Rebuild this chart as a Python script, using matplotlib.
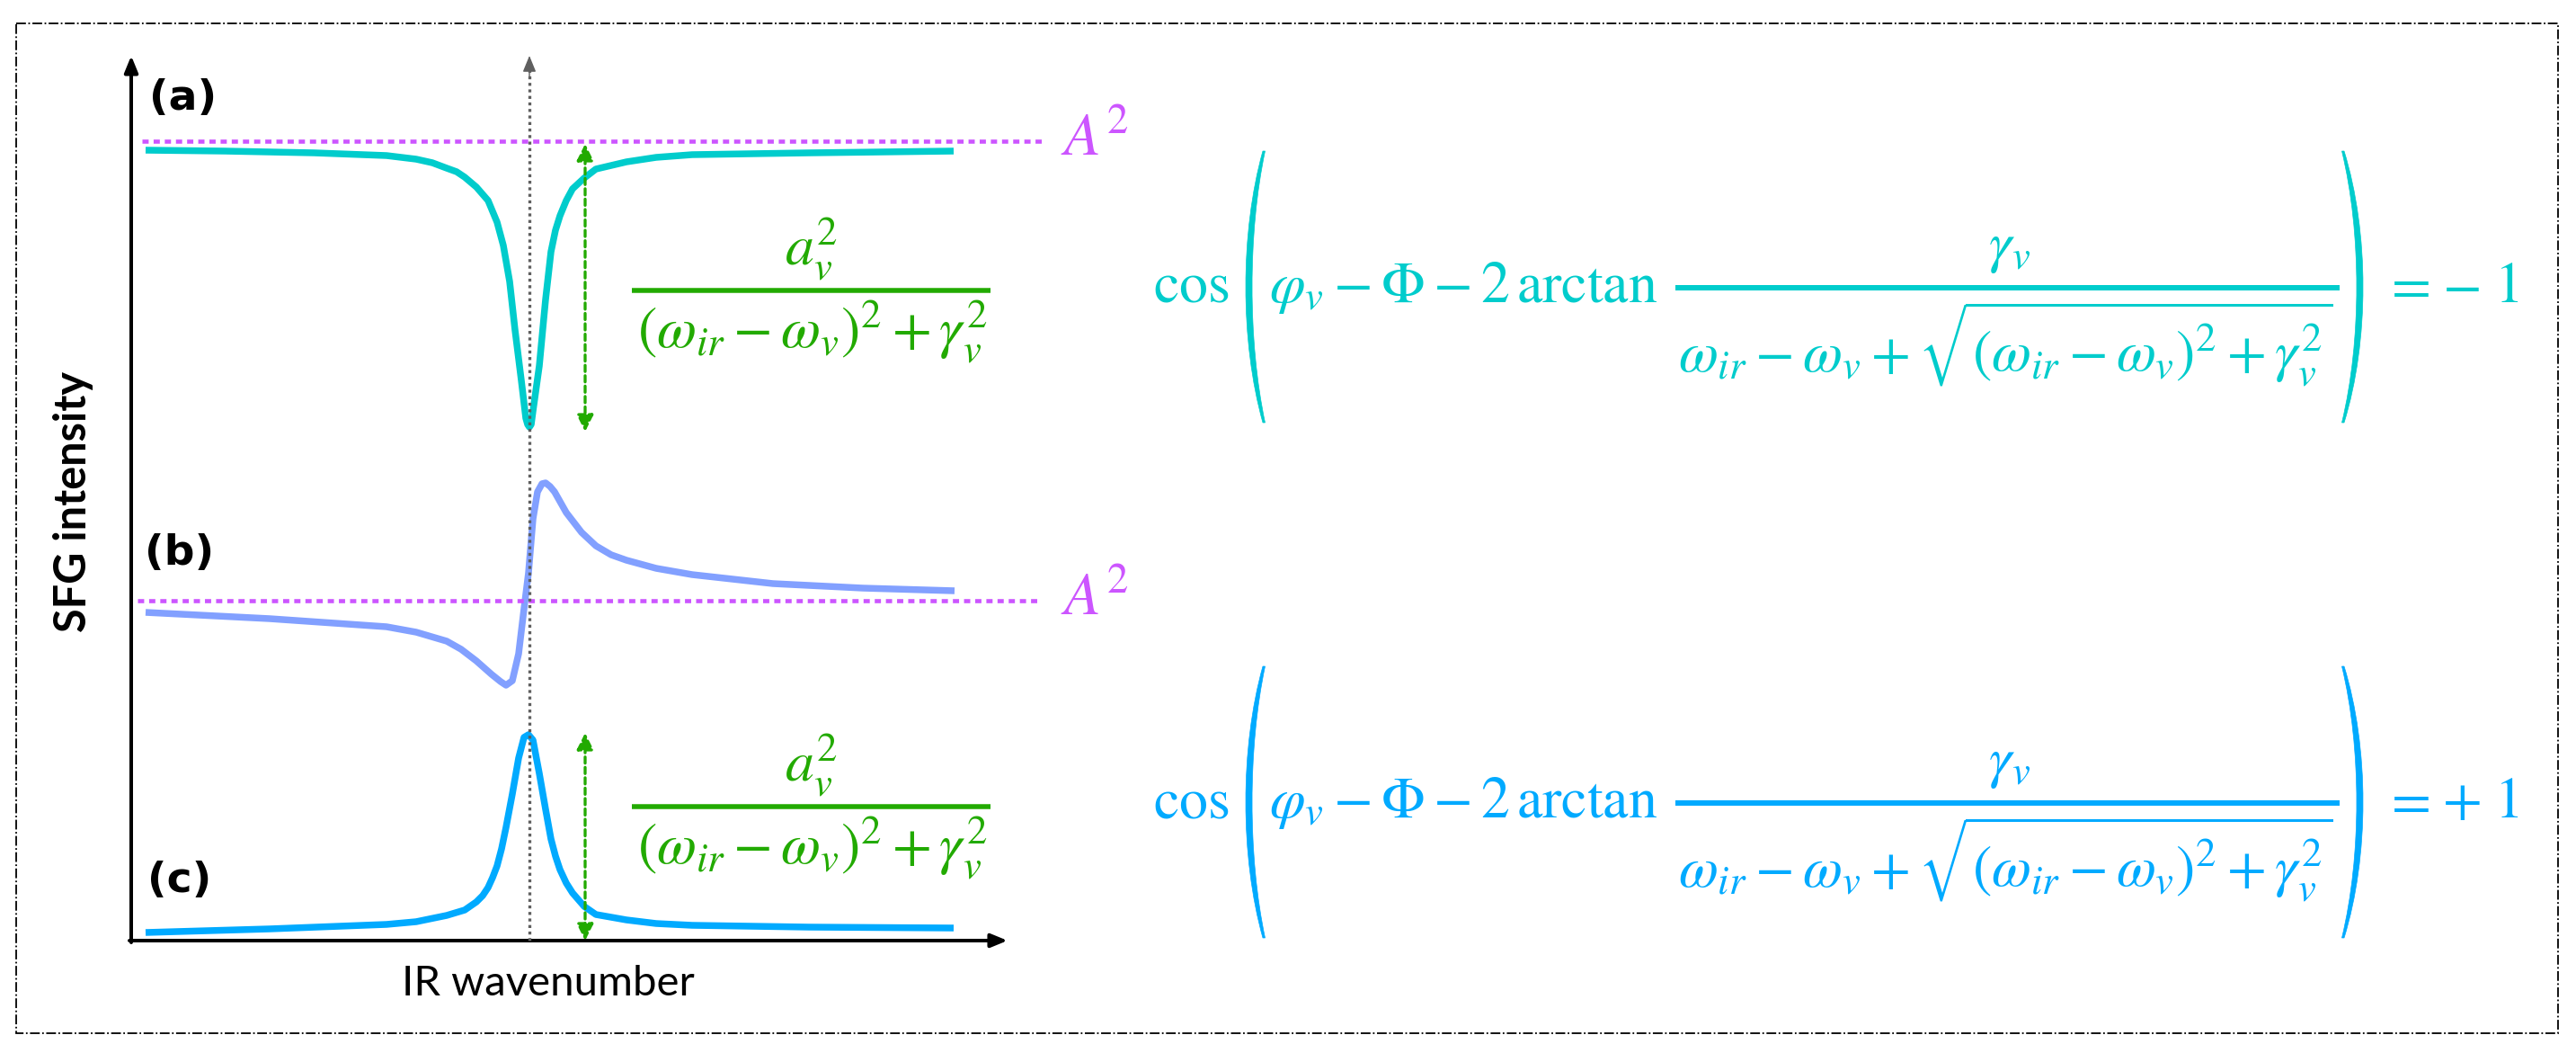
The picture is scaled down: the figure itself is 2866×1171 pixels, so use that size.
import matplotlib
matplotlib.use('Agg')
import matplotlib.pyplot as plt
from matplotlib.patches import FancyArrowPatch, Rectangle, PathPatch
from matplotlib.path import Path

plt.rcParams['mathtext.fontset'] = 'stix'

# ---------------- data (arbitrary units: IR wavenumber, SFG intensity) ----------------
x_a = [16, 104, 204, 284, 317, 335, 351, 362, 371, 384, 397, 407, 414, 421, 427, 434, 439, 441, 443,
       445, 447, 454, 461, 467, 472, 477, 484, 491, 504, 517, 551, 584, 624, 754, 915]
y_a = [879, 878, 876, 873, 869, 865, 859, 855, 849, 838, 823, 799, 773, 733, 679, 623, 581, 574, 571,
       574, 589, 639, 713, 766, 790, 806, 823, 836, 848, 858, 866, 871, 874, 876, 878]

x_b = [16, 154, 284, 317, 351, 367, 384, 401, 411, 417, 424, 431, 437, 442, 447, 452, 457,
       461, 466, 471, 484, 501, 517, 534, 551, 584, 624, 714, 814, 916]
y_b = [365, 358, 349, 343, 333, 324, 311, 296, 288, 284, 289, 319, 369, 409, 469, 499, 508,
       509, 505, 499, 476, 454, 439, 429, 423, 414, 407, 397, 392, 389]

x_c = [16, 154, 284, 317, 351, 371, 384, 391, 397, 402, 407, 412, 417, 424, 431, 437, 442, 447, 454, 461,
       467, 472, 477, 484, 491, 504, 517, 551, 584, 624, 754, 915]
y_c = [9, 13, 18, 21, 28, 34, 43, 50, 59, 70, 83, 102, 126, 163, 203, 226, 229, 223, 186, 146,
       113, 94, 79, 64, 53, 38, 29, 23, 19, 17, 15, 14]

resonance_x = 443          # omega_v
A2_level_a = 889           # non-resonant level, panel (a)
A2_level_b = 378           # non-resonant level, panel (b)
a_min = 571                # minimum of (a)
c_peak = 229               # peak of (c)
arrow_x = 505

panel_labels = ['(a)', '(b)', '(c)']
ylabel = 'SFG intensity'
xlabel = 'IR wavenumber'

green_num = r'$a_v^2$'
green_den = r'$(\omega_{ir}-\omega_v)^2+\gamma_v^2$'
eq_num = r'$\gamma_v$'
eq_den = r'$\omega_{ir}-\omega_v+\sqrt{(\omega_{ir}-\omega_v)^2+\gamma_v^2}$'
eq_signs = [r'$-$', r'$+$']

# ---------------- colours ----------------
C_A = '#00CCCC'
C_B = '#82A0FF'
C_C = '#00AAFF'
C_MAG = '#CC55FF'
C_GRN = '#22AA00'
C_GRY = '#5F5F5F'

W, H, DPI = 2866, 1171, 100
PX = 72.0 / DPI   # points per pixel

fig = plt.figure(figsize=(W / DPI, H / DPI), dpi=DPI)
ov = fig.add_axes([0, 0, 1, 1])
ov.set_xlim(0, W)
ov.set_ylim(H, 0)
ov.axis('off')

X0, X1, Y0, Y1 = 146, 1121, 1046, 62
ax = fig.add_axes([X0 / W, (H - Y0) / H, (X1 - X0) / W, (Y0 - Y1) / H])
ax.set_xlim(0, X1 - X0)
ax.set_ylim(0, Y0 - Y1)
ax.axis('off')
ax.patch.set_alpha(0)

# frame
ov.add_patch(Rectangle((18, 26), 2828, 1123, fill=False, ec='black', lw=1.3,
                       ls=(0, (6, 1.5, 1, 1.5))))

# axes arrows
for a, b in [((X0, Y0 + 2), (X0, Y1)), ((X0 - 2, Y0), (X1, Y0))]:
    ov.add_patch(FancyArrowPatch(a, b, arrowstyle='-|>,head_length=11,head_width=4.5',
                                 mutation_scale=1, lw=4 * PX, color='black',
                                 shrinkA=0, shrinkB=0))

# curves
LW = 7.5 * PX
for xs, ys, c in [(x_a, y_a, C_A), (x_b, y_b, C_B), (x_c, y_c, C_C)]:
    ax.plot(xs, ys, color=c, lw=LW, solid_joinstyle='round', solid_capstyle='butt',
            zorder=2, clip_on=False)

# A^2 levels
ax.plot([12, 1013], [A2_level_a, A2_level_a], color=C_MAG, lw=4.6 * PX,
        ls=(0, (1.5, 1.2)), zorder=3, clip_on=False)
ax.plot([7, 1009], [A2_level_b, A2_level_b], color=C_MAG, lw=4.6 * PX,
        ls=(0, (1.5, 1.2)), zorder=3, clip_on=False)
for yb in (173, 684):
    ov.text(1180, yb, r'$A^2$', color=C_MAG, fontsize=48, ha='left', va='baseline')

# resonance line
ax.plot([resonance_x, resonance_x], [0, 968], color=C_GRY, lw=3.3 * PX,
        ls=(0, (1, 1.2)), zorder=4, clip_on=False)
ax.add_patch(FancyArrowPatch((resonance_x, 960), (resonance_x, 984),
                             arrowstyle='-|>,head_length=11,head_width=4.5',
                             mutation_scale=1, lw=1, color=C_GRY,
                             shrinkA=0, shrinkB=0, zorder=4, clip_on=False))

# green double arrows
for ya, yb in [(A2_level_a - 3, a_min - 5), (c_peak + 2, 0)]:
    ax.add_patch(FancyArrowPatch((arrow_x, ya), (arrow_x, yb),
                                 arrowstyle='<|-|>,head_length=11,head_width=5.5',
                                 mutation_scale=1, lw=3.3 * PX, color=C_GRN,
                                 ls=(0, (2.1, 1.4)), shrinkA=0, shrinkB=0,
                                 zorder=4, clip_on=False))

# green fractions
for dy in (0, 574):
    ov.plot([703, 1102], [323 + dy, 323 + dy], color=C_GRN, lw=5.5 * PX,
            solid_capstyle='butt')
    ov.text(903, 295 + dy, green_num, color=C_GRN, fontsize=46, ha='center', va='baseline')
    ov.text(904, 387 + dy, green_den, color=C_GRN, fontsize=46, ha='center', va='baseline')

# panel labels
for lab, (lx, ly) in zip(panel_labels, [(204, 110), (200, 615), (200, 980)]):
    ov.text(lx, ly, lab, fontsize=34, fontweight='bold', family='DejaVu Sans',
            ha='center', va='center')

ov.text(82, 558, ylabel, rotation=90, fontsize=35, family='Lato',
        fontweight='bold', ha='center', va='center')
ov.text(610, 1094, xlabel, fontsize=34, family='Lato', fontweight='normal',
        ha='center', va='center')


def paren(x_out, x_end, y_top, y_bot, color, thick=7.0, tip=2.5):
    s = 1 if x_end > x_out else -1
    h = y_bot - y_top
    k = 0.3 * h
    c_out = (x_out - 0.25 * x_end) / 0.75
    xe_in = x_end + s * tip
    c_in = (x_out + s * thick - 0.25 * xe_in) / 0.75
    verts = [(x_end, y_top), (c_out, y_top + k), (c_out, y_bot - k), (x_end, y_bot),
             (xe_in, y_bot), (c_in, y_bot - k), (c_in, y_top + k), (xe_in, y_top),
             (x_end, y_top)]
    codes = [Path.MOVETO, Path.CURVE4, Path.CURVE4, Path.CURVE4,
             Path.LINETO, Path.CURVE4, Path.CURVE4, Path.CURVE4, Path.CLOSEPOLY]
    ov.add_patch(PathPatch(Path(verts, codes), fc=color, ec=color, lw=0.5))


# equations
FS = 46
for dy, col, sign in [(0, C_A, eq_signs[0]), (573, C_C, eq_signs[1])]:
    yb = 336 + dy
    ov.text(1283, yb, r'$\cos$', color=col, fontsize=FS, ha='left', va='baseline')
    paren(1386, 1405, 168 + dy, 470 + dy, col)
    ov.text(1412, yb, r'$\varphi_v-\Phi-2\,\arctan$', color=col, fontsize=FS,
            ha='left', va='baseline')
    ov.plot([1864, 2603], [320 + dy, 320 + dy], color=col, lw=6 * PX, solid_capstyle='butt')
    ov.text(2236, 291 + dy, eq_num, color=col, fontsize=FS, ha='center', va='baseline')
    ov.text(2231, 413 + dy, eq_den, color=col, fontsize=FS, ha='center', va='baseline')
    paren(2629, 2608, 168 + dy, 470 + dy, col)
    ov.text(2677, yb, r'$=$', color=col, fontsize=FS, ha='center', va='baseline')
    ov.text(2738, yb, sign, color=col, fontsize=FS, ha='center', va='baseline')
    ov.text(2789, yb, r'$1$', color=col, fontsize=FS, ha='center', va='baseline')

fig.savefig('out.png', dpi=DPI)
